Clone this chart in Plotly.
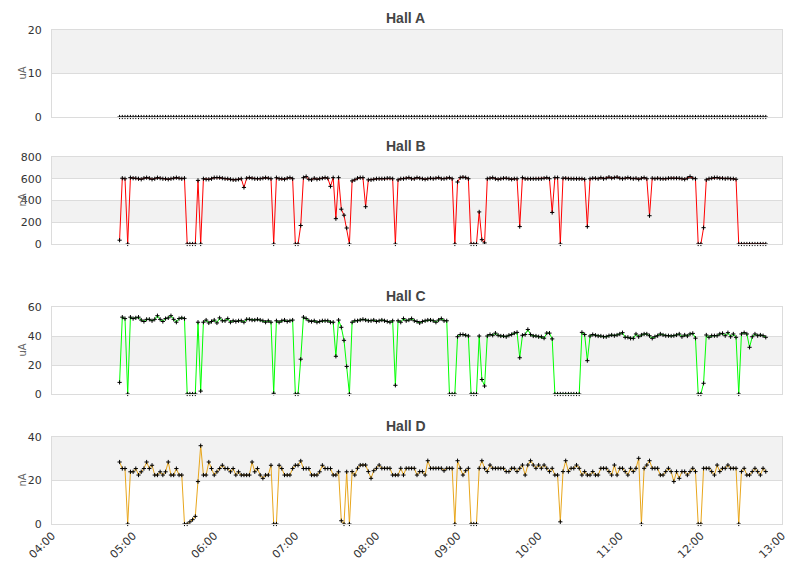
import pandas as pd
import plotly.graph_objects as go
from plotly.subplots import make_subplots

# --- Data (one reading every 2 minutes, 04:50 -> 12:48) ---
START = "2024-01-01 04:50"
N_POINTS = 240
times = pd.date_range(START, periods=N_POINTS, freq="2min")

panel_titles = ["Hall A", "Hall B", "Hall C", "Hall D"]
units = ["uA", "nA", "uA", "nA"]
y_max = [20, 800, 60, 40]
y_step = [10, 200, 20, 20]
x_ticks = ["04:00", "05:00", "06:00", "07:00", "08:00", "09:00",
           "10:00", "11:00", "12:00", "13:00"]

hall_a = [
    0, 0, 0, 0, 0, 0, 0, 0, 0, 0, 0, 0, 0, 0, 0, 0, 0, 0, 0, 0,
    0, 0, 0, 0, 0, 0, 0, 0, 0, 0, 0, 0, 0, 0, 0, 0, 0, 0, 0, 0,
    0, 0, 0, 0, 0, 0, 0, 0, 0, 0, 0, 0, 0, 0, 0, 0, 0, 0, 0, 0,
    0, 0, 0, 0, 0, 0, 0, 0, 0, 0, 0, 0, 0, 0, 0, 0, 0, 0, 0, 0,
    0, 0, 0, 0, 0, 0, 0, 0, 0, 0, 0, 0, 0, 0, 0, 0, 0, 0, 0, 0,
    0, 0, 0, 0, 0, 0, 0, 0, 0, 0, 0, 0, 0, 0, 0, 0, 0, 0, 0, 0,
    0, 0, 0, 0, 0, 0, 0, 0, 0, 0, 0, 0, 0, 0, 0, 0, 0, 0, 0, 0,
    0, 0, 0, 0, 0, 0, 0, 0, 0, 0, 0, 0, 0, 0, 0, 0, 0, 0, 0, 0,
    0, 0, 0, 0, 0, 0, 0, 0, 0, 0, 0, 0, 0, 0, 0, 0, 0, 0, 0, 0,
    0, 0, 0, 0, 0, 0, 0, 0, 0, 0, 0, 0, 0, 0, 0, 0, 0, 0, 0, 0,
    0, 0, 0, 0, 0, 0, 0, 0, 0, 0, 0, 0, 0, 0, 0, 0, 0, 0, 0, 0,
    0, 0, 0, 0, 0, 0, 0, 0, 0, 0, 0, 0, 0, 0, 0, 0, 0, 0, 0, 0,
]

hall_b = [
    35, 605, 600, 0,
    610, 605, 605, 600, 595, 605, 610, 605, 595, 600, 610, 605, 600, 600, 595, 600, 605, 610, 605, 600, 605,
    0, 0, 0, 0,
    585, 0,
    600, 595, 595, 600, 610, 610, 610, 605, 600, 600, 595, 590, 590, 595, 600,
    520,
    605, 610, 605, 600, 600, 600, 605, 610, 605, 600,
    0,
    610, 600, 600, 595, 605, 610, 600,
    0, 0,
    170, 610, 620,
    595, 590, 605, 595, 600, 605, 610, 605,
    530, 610, 233, 610, 320, 265, 147, 0, 580, 590, 605, 610, 610, 343,
    590, 590, 595, 600, 600, 600, 600, 605, 605, 600,
    0,
    590, 600, 600, 605, 610, 600, 600, 610, 605, 600, 595, 600, 605, 600, 605, 610, 600, 600, 605, 610, 600,
    0, 570, 610, 615, 610, 600, 0, 0, 0, 295, 40, 10,
    600, 605, 610, 600, 595, 600, 605, 605, 600, 595, 600, 600,
    160,
    610, 600, 600, 600, 600, 600, 600, 600, 605, 610, 600,
    290, 610, 610, 0,
    605, 605, 600, 600, 600, 600, 600, 600, 595,
    160,
    600, 605, 605, 600, 610, 600, 605, 615, 605, 610, 615, 605, 600, 605, 610, 605, 600, 605, 595, 605, 610, 600,
    260,
    605, 600, 605, 600, 600, 600, 605, 605, 605, 605, 605, 600, 595, 605, 620, 605, 600,
    0, 0, 150,
    590, 600, 605, 610, 610, 605, 605, 600, 605, 600, 600, 595,
    0, 0, 0, 0, 0, 0, 0, 0, 0, 0, 0,
]

hall_c = [
    8, 53, 52, 0,
    53, 52, 52.5, 53, 51, 50, 51.5, 51.5, 50.5, 51.5, 54, 51.5, 50, 52, 52.5, 54, 51.5, 49.5, 52, 52.5, 52,
    0, 0, 0, 0,
    49.5, 2,
    49.5, 51, 49, 50, 51, 49, 52.5, 50.5, 50.5, 52, 49.5, 50.5, 50, 50.5, 50.5, 49.5, 51.5, 51.5, 51, 51,
    51.5, 51, 50.5, 49.5, 50.5, 49.5,
    0.5,
    50.5, 49.5, 50.5, 51, 50, 50.5, 51,
    0, 0,
    24,
    53, 52, 50.5, 50, 50.5, 49.5, 50, 50.5, 50.5, 50.5, 49.5, 49.5,
    26, 51, 46, 37, 19, 0,
    49.5, 50.5, 50.5, 51, 51.5, 51, 50.5, 50.5, 51, 50, 50.5, 51, 50.5, 50, 49.5, 50.5,
    6,
    50.5, 49.5, 52, 50.5, 51, 52, 50.5, 50, 49, 50, 50.5, 51, 51, 50.5, 49.5, 51, 52, 50.5, 50.5,
    0, 0, 0,
    39.5, 41, 41, 40.5, 40,
    0, 0, 0,
    40, 10, 5.5,
    40, 41, 40.5, 42, 40.5, 40, 40, 39.5, 40.5, 41, 42, 42.5,
    25,
    40.5, 41, 44.5, 41, 40, 40, 39.5, 39.5, 38.5, 42, 42,
    38,
    0, 0, 0, 0, 0, 0, 0, 0, 0, 0,
    42.5, 41, 23,
    40, 41, 40.5, 40, 40, 39.5,
    39.5, 40.2, 40.7, 40.2, 40.7, 41.4, 42.3, 39.1, 39.1, 38.4, 38.4, 41.4, 39.5, 40.7, 41.4, 41.4, 40.2,
    38.4, 39.5, 40.2, 41.4, 40.7, 40.2, 40.2, 40.0, 40.2, 40.7, 41.4, 39.5, 40.7, 40.0, 41.4, 41.8,
    38.5, 0, 0, 7.4,
    40.7, 39.1, 40.2, 40.2, 40.2, 41.4, 41.8, 40.2, 42.3, 39.5, 41.4, 39.1,
    0,
    41.4, 42.3, 41.4, 32.2, 39.5, 41.4, 40.2, 40.7, 40.2, 39.1,
]

hall_d = [
    28.5, 25.5, 25.5, 0, 24, 24, 25.5, 22.5, 24, 25.5, 28.5, 25.5, 27, 22.5, 22.5, 24, 22.5, 24, 28.5, 22.5,
    22.5, 25.5, 22.5, 22.5,
    0, 0, 1, 2, 3.5, 19.5, 36,
    22.5, 22.5, 28.5, 25.5, 22.5, 24, 25.5, 27, 25.5, 25.5, 24, 25.5, 22.5, 24, 22.5, 22.5, 22.5, 22.5, 28.5,
    24, 25.5, 22.5, 21, 22.5, 22.5, 27,
    0, 0,
    27, 25.5, 22.5, 22.5, 22.5, 25.5, 27, 27, 29, 25.5, 25.5, 25.5, 22.5, 22.5, 22.5, 24, 27, 25.5, 25.5, 25.5,
    22.5, 22.5, 24,
    1.5, 0, 24, 0,
    24.1, 22.5, 25.6, 27.1, 27.1, 27.1, 24.1, 21.0, 24.5, 25.6, 27.1, 25.6, 25.6, 25.6, 25.6, 22.5, 22.5, 22.5,
    25.6, 22.5, 25.6, 25.6, 25.6, 25.6, 22.5, 24.1, 24.1, 22.5, 29.1, 25.6, 25.6, 25.6, 25.6, 25.6, 24.5, 25.6,
    25.6,
    25.6,
    0,
    29.1, 25.6, 22.5, 24.5, 25.6,
    0, 0, 0,
    25.6, 29.1, 25.6, 24.1, 27.1, 25.6, 25.6, 25.6, 25.6, 25.6, 24.1, 24.1, 25.6, 25.6, 24.1, 25.6, 27.1, 22.5,
    27.1, 29.1, 27.1, 25.6, 27.1, 25.6, 27.1, 25.6, 24.1, 25.6, 22.5, 22.5,
    1,
    24.1, 29.1, 24.1, 25.6, 25.6, 27.1, 25.6, 22.5, 24.1, 22.5, 22.5, 24.1, 22.5, 22.5, 25.6, 25.6,
    25.6, 24.1, 22.5, 27.1, 22.5, 25.6, 25.6, 24.1, 22.5, 25.6, 24.1, 25.6, 30.2,
    0,
    25.6, 27.1, 29.1, 25.6, 25.6, 25.6, 22.5, 22.5, 24.1, 25.6, 24.1, 19.5, 24.1, 21.0, 24.1, 24.1, 22.5, 24.1,
    25.6, 24.1,
    0, 0,
    25.6, 25.6, 25.6, 24.1, 22.5, 27.1, 24.1, 25.6, 25.6, 27.1, 25.6, 25.6, 25.6,
    0,
    24.1, 25.6, 22.5, 22.5, 24.1, 25.6, 24.1, 22.5, 25.6, 24.1,
]

series = [hall_a, hall_b, hall_c, hall_d]
line_colors = ["#000000", "#ff0000", "#00ff00", "#e8a61c"]

# --- Figure ---
W, H = 811, 578
L, R, T, B = 52, 29, 30, 54
plot_h = H - T - B

def py(px):
    # pixel row (from top) -> paper y
    return (H - B - px) / plot_h

# panel pixel tops / bottoms
panel_px = [(30, 117), (157, 244), (307, 394), (437, 524)]
title_px = [18, 146, 296, 426]

fig = make_subplots(rows=4, cols=1, shared_xaxes=True)

for k, vals in enumerate(series):
    mode = "markers" if k == 0 else "lines+markers"
    fig.add_trace(go.Scatter(
        x=times, y=vals, mode=mode, name=panel_titles[k],
        line=dict(color=line_colors[k], width=1),
        marker=dict(symbol="cross-thin", size=3, color="#000000",
                    line=dict(color="#000000", width=1)),
        cliponaxis=False, showlegend=False,
    ), row=k + 1, col=1)

grid = "#dcdcdc"
label_font = "DejaVu Sans"
title_font = "Liberation Sans, Arial, sans-serif"
x_range = ["2024-01-01 04:00", "2024-01-01 13:00"]
tick_vals = pd.date_range("2024-01-01 04:00", periods=len(x_ticks), freq="1h")

shapes = []
annotations = []
for k in range(4):
    top, bot = panel_px[k]
    ax_id = "" if k == 0 else str(k + 1)
    fig.layout["yaxis" + ax_id].update(
        domain=[py(bot), py(top)], range=[0, y_max[k]], dtick=y_step[k],
        showgrid=True, gridcolor=grid, gridwidth=1, zeroline=False,
        showline=True, linecolor=grid, mirror=True, ticks="",
        ticklabelstandoff=7,
        tickfont=dict(family=label_font, size=11, color="#333333"),
    )
    fig.layout["xaxis" + ax_id].update(
        range=x_range, showgrid=False, zeroline=False,
        showline=True, linecolor=grid, mirror=True, ticks="",
        tickvals=tick_vals, ticktext=x_ticks, tickangle=-45,
        showticklabels=(k == 3), automargin=False,
        tickfont=dict(family=label_font, size=11, color="#333333"),
    )
    # alternate bands (every second band shaded)
    v = y_step[k]
    while v < y_max[k]:
        shapes.append(dict(
            type="rect", xref="x" + ax_id + " domain", yref="y" + ax_id,
            x0=0, x1=1, y0=v, y1=min(v + y_step[k], y_max[k]),
            fillcolor="#f2f2f2", line=dict(width=0), layer="below",
        ))
        v += 2 * y_step[k]
    annotations.append(dict(
        text="<b>" + panel_titles[k] + "</b>", xref="paper", yref="paper",
        x=(W / 2 - L) / (W - L - R), y=py(title_px[k]),
        xanchor="center", yanchor="middle", showarrow=False,
        font=dict(family=title_font, size=14, color="#444444"),
    ))
    annotations.append(dict(
        text=units[k], xref="paper", yref="paper", textangle=-90,
        x=(22 - L) / (W - L - R), y=py((top + bot) / 2),
        xanchor="center", yanchor="middle", showarrow=False,
        font=dict(family=label_font, size=10, color="#666666"),
    ))

fig.update_layout(
    width=W, height=H,
    margin=dict(l=L, r=R, t=T, b=B, autoexpand=False),
    paper_bgcolor="#ffffff", plot_bgcolor="#ffffff",
    font=dict(family=label_font, size=11, color="#333333"),
    shapes=shapes, annotations=annotations,
    showlegend=False,
)

# drop the page's default body margin so the chart sits at the window origin
fig.write_html("out.html", config={"displayModeBar": False},
               post_script="document.body.style.margin = '0px';")
